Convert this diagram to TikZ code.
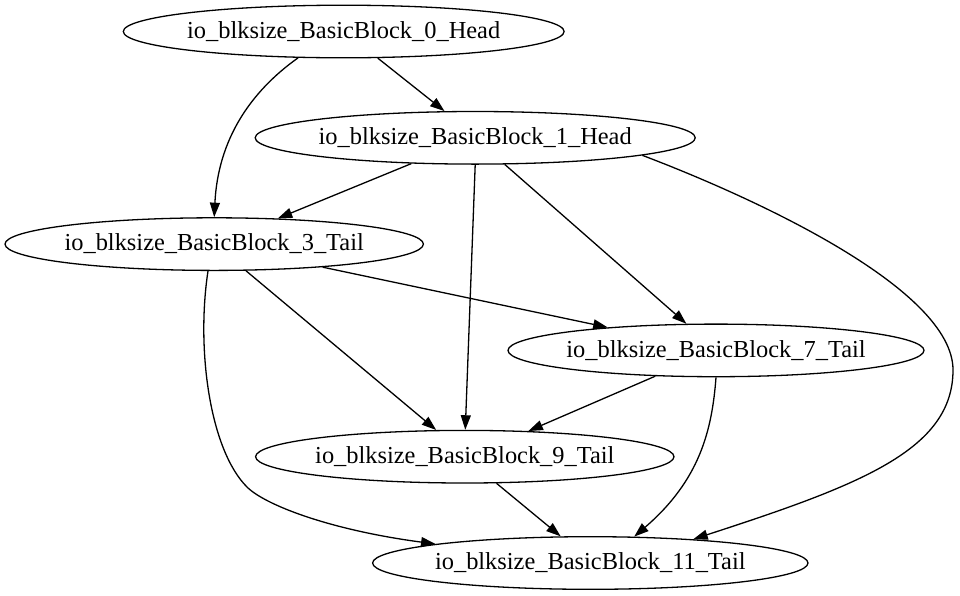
\documentclass[tikz,border=0pt]{standalone}
\usepackage{fontspec}
\setmainfont{Liberation Serif}
\usetikzlibrary{shapes.geometric,arrows.meta}
\tikzset{
  blk/.style={draw, ellipse, inner sep=0pt, minimum height=52.6pt, line width=1.3pt,
    font=\fontsize{24.4}{29}\selectfont},
  edge/.style={line width=1.3pt, -{Triangle[length=14.5pt,width=10pt]}}
}
\newcommand{\lbl}[1]{\makebox[0pt]{#1}}
\begin{document}
\begin{tikzpicture}[x=1pt,y=-1pt]
\useasboundingbox (0,0) rectangle (960,595);
\node[blk, minimum width=440.8pt] (n0) at (343.7,31.5) {\lbl{io\_blksize\_BasicBlock\_0\_Head}};
\node[blk, minimum width=440pt] (n1) at (475.2,137.8) {\lbl{io\_blksize\_BasicBlock\_1\_Head}};
\node[blk, minimum width=418.4pt] (n3) at (214.2,244.1) {\lbl{io\_blksize\_BasicBlock\_3\_Tail}};
\node[blk, minimum width=416pt] (n7) at (716,350.4) {\lbl{io\_blksize\_BasicBlock\_7\_Tail}};
\node[blk, minimum width=418.4pt] (n9) at (464.8,456.7) {\lbl{io\_blksize\_BasicBlock\_9\_Tail}};
\node[blk, minimum width=435.4pt] (n11) at (590.3,563) {\lbl{io\_blksize\_BasicBlock\_11\_Tail}};

\draw[edge] (n0.-38) -- (n1.139.2);
\draw[edge] (n0.-150.6) .. controls (250,92) and (218,140) .. (n3.north);
\draw[edge] (n1.-158) -- (n3.22.5);
\draw[edge] (n1.-90.3) -- (n9.89.7);
\draw[edge] (n1.-42.2) -- (n7.138.1);
\draw[edge] (n1.-6.5) .. controls (760,200) and (953,290) .. (953,370)
  .. controls (953,450) and (860,485) .. (n11.13.5);
\draw[edge] (n3.-12.1) -- (n7.168);
\draw[edge] (n3.-40.2) -- (n9.137.9);
\draw[edge] (n3.-103.3) .. controls (196,350) and (210,450) .. (247,487)
  .. controls (265,505) and (330,530) .. (n11.173.7);
\draw[edge] (n7.-157.6) -- (n9.22.4);
\draw[edge] (n7.-90.3) .. controls (712,430) and (700,480) .. (n11.31.1);
\draw[edge] (n9.-40.7) -- (n11.138.8);
\end{tikzpicture}
\end{document}
